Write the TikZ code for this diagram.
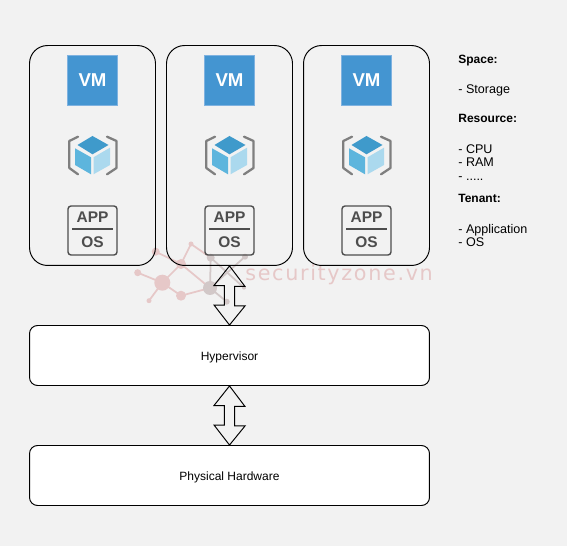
\documentclass[tikz,border=0pt]{standalone}
\usepackage{fontspec}
\setmainfont{Liberation Sans}
\newfontfamily\markfont[LetterSpace=8]{DejaVu Sans}
\usetikzlibrary{positioning, calc}
\definecolor{pagebg}{HTML}{F2F2F2}
\definecolor{vmblue}{HTML}{4495D1}
\definecolor{vmedge}{HTML}{7FB2E0}
\definecolor{cubetop}{HTML}{3F9ACB}
\definecolor{cubeleft}{HTML}{5DB5DD}
\definecolor{cuberight}{HTML}{ABD9EE}
\definecolor{bracketgray}{HTML}{7F7F7F}
\definecolor{appgray}{HTML}{4D4D4D}
\definecolor{markpink}{HTML}{E6C8C8}
\definecolor{markgray}{HTML}{D2C8C8}
\tikzset{
  hostbox/.style={draw=black, line width=0.55pt, rounded corners=0.36cm, minimum width=2.52cm, minimum height=4.4cm, inner sep=0pt},
  layerbox/.style={draw=black, fill=white, line width=0.55pt, rounded corners=0.16cm, minimum width=8.0cm, minimum height=1.2cm, text height=0.22cm, text depth=0.02cm, font=\fontsize{6.83pt}{8pt}\selectfont},
  vmbox/.style={draw=vmedge, fill=vmblue, line width=0.4pt, minimum size=1cm, inner sep=0pt, text=white, font=\fontsize{10.6pt}{12pt}\selectfont\bfseries},
  appbox/.style={draw=appgray, line width=0.8pt, rounded corners=0.06cm, minimum size=0.98cm, inner sep=0pt},
  apptext/.style={text=appgray, inner sep=0pt, font=\fontsize{8.8pt}{10pt}\selectfont\bfseries},
  sidetext/.style={anchor=base west, inner sep=0pt, font=\fontsize{7.15pt}{8pt}\selectfont},
  sidehead/.style={sidetext, font=\fontsize{6.83pt}{8pt}\selectfont\bfseries},
  bigarrow/.style={draw=black, line width=0.55pt, line join=miter},
  bracketline/.style={draw=bracketgray, line width=1.3pt, line cap=round, line join=round},
  markdot/.style={fill=markpink, draw=none},
  graydot/.style={fill=markgray, draw=none},
  markline/.style={draw=markpink, line width=1pt},
  grayline/.style={draw=markgray, line width=1pt},
  pics/cubeicon/.style={code={
    \fill[cubetop] (0,-9) -- (16,0) -- (0,9.3) -- (-15,0) -- cycle;
    \fill[cubeleft] (-17.5,3.3) -- (-1.5,12.3) -- (-1.5,29.3) -- (-17.5,20) -- cycle;
    \fill[cuberight] (1,12.3) -- (17.5,2.7) -- (17.5,20) -- (1,29.3) -- cycle;
  }}
}
\begin{document}
\begin{tikzpicture}[x=0.02cm, y=-0.02cm]

    % ---------- page ----------
    \fill[pagebg] (0,0) rectangle (567,546);
    \useasboundingbox (0,0) rectangle (567,546);

    % ---------- watermark ----------
    \draw[markline] (137.7,272.7) -- (162.3,282.7) -- (149,300.7);
    \draw[markline] (162.3,282.7) -- (181,264) -- (155.7,251.7);
    \draw[markline] (162.3,282.7) -- (181,295.7) -- (210,288);
    \draw[markline] (181,264) -- (191,244) -- (210.7,257.7);
    \draw[markline] (181,264) -- (210,288);
    \draw[grayline] (210,288) -- (226.7,301.7);
    \draw[grayline] (210.7,257.7) -- (210,288) -- (245,256.7);
    \draw[grayline] (210.7,257.7) -- (244,287.7);
    \foreach \px/\py/\pr in {162.3/282.7/8, 181/295.7/5, 181/264/5,
                             137.7/272.7/3.5, 149/300.7/2.5, 191/244/2.5, 155.7/251.7/4}
      \fill[markdot] (\px,\py) circle ({\pr*0.02cm});
    \foreach \px/\py/\pr in {210/288/7, 210.7/257.7/4, 245/256.7/3, 226.7/301.7/3, 244/287.7/2}
      \fill[graydot] (\px,\py) circle ({\pr*0.02cm});
    \node[anchor=base west, inner sep=0pt, text=markpink, font=\fontsize{11.8pt}{12pt}\markfont] (watermark) at (245,281) {securityzone.vn};

    % ---------- hosts ----------
    \foreach \i/\cx in {1/92.5, 2/229.5, 3/366.5} {
      \node[hostbox] (host\i) at (\cx,155.5) {};
      \node[vmbox] (vm\i) at (\cx,80) {VM};
      \pic at (\cx,145) {cubeicon};
      % brackets
      \draw[bracketline] (\cx-14.5,136.7) -- (\cx-23.2,141) -- (\cx-23.2,168) -- (\cx-14.5,174.3);
      \draw[bracketline] (\cx+14.5,136.7) -- (\cx+24,141) -- (\cx+24,168) -- (\cx+14.5,174.3);
      \node[appbox] (app\i) at (\cx,230.5) {};
      \node[apptext] (apptop\i) at (\cx,217) {APP};
      \node[apptext] (appbot\i) at (\cx,242) {OS};
      \draw[appgray, line width=0.6pt] (\cx-20.5,229) -- (\cx+20.5,229);
    }

    % ---------- layers ----------
    \node[layerbox] (hypervisor) at (229.5,355.5) {Hypervisor};
    \node[layerbox] (hardware) at (229.5,475.5) {Physical Hardware};

    % ---------- double arrows ----------
    \draw[bigarrow] (host2.south) -- ++(15.5,20.5) -- ++(-10.3,0) -- ++(0,19.5) -- ++(10.3,0)
      -- (hypervisor.north) -- ++(-15.5,-20) -- ++(10.3,0) -- ++(0,-19.5) -- ++(-10.3,0) -- cycle;
    \draw[bigarrow] (hypervisor.south) -- ++(15.5,20.5) -- ++(-10.3,0) -- ++(0,19.5) -- ++(10.3,0)
      -- (hardware.north) -- ++(-15.5,-20) -- ++(10.3,0) -- ++(0,-19.5) -- ++(-10.3,0) -- cycle;

    % ---------- side notes ----------
    \node[sidehead] (space) at (458,63.5) {Space:};
    \node[sidetext] (storage) at (458,94) {- Storage};
    \node[sidehead] (resource) at (458,123) {Resource:};
    \node[sidetext] (cpu) at (458,154) {- CPU};
    \node[sidetext] (ram) at (458,167) {- RAM};
    \node[sidetext] (dots) at (458,181) {- .....};
    \node[sidehead] (tenant) at (458,203) {Tenant:};
    \node[sidetext] (application) at (458,234) {- Application};
    \node[sidetext] (os) at (458,247) {- OS};

\end{tikzpicture}
\end{document}
